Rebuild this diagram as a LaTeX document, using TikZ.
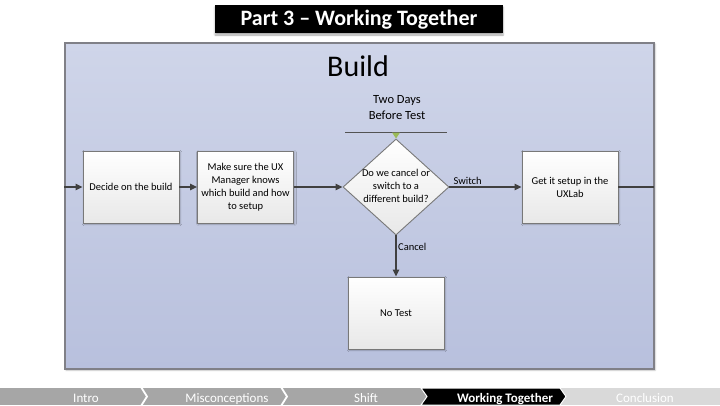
\documentclass[tikz,border=0pt]{standalone}
\usepackage{fontspec}
\setmainfont{Carlito}
\usetikzlibrary{shapes.geometric,arrows.meta,shadows.blur}
\definecolor{paneltop}{RGB}{207,213,233}
\definecolor{panelbot}{RGB}{184,192,221}
\definecolor{panelborder}{RGB}{128,128,135}
\definecolor{linec}{RGB}{64,64,64}
\definecolor{boxborder}{RGB}{120,120,120}
\definecolor{navgray}{RGB}{166,166,166}
\definecolor{navlight}{RGB}{217,217,217}
\definecolor{trigreen}{RGB}{155,187,89}
\tikzset{
  stepbox/.style={draw=boxborder, line width=0.9pt, top color=white, bottom color=black!9,
    minimum width=96pt, minimum height=72pt, inner sep=2pt, align=center,
    font=\fontsize{10.5}{13}\selectfont, blur shadow={shadow xshift=1pt, shadow yshift=-1pt, shadow blur steps=4, shadow opacity=25}},
  decision/.style={draw=boxborder, line width=0.9pt, shape=diamond, top color=white, bottom color=black!9,
    minimum width=106pt, minimum height=96pt, inner sep=0pt},
  flow/.style={draw=linec, line width=1.3pt, -{Triangle[length=7pt,width=6.5pt]}},
  plain/.style={draw=linec, line width=1.3pt},
  lbl/.style={font=\fontsize{10.5}{12}\selectfont, inner sep=1.5pt},
  navtxt/.style={font=\fontsize{13}{13}\selectfont, text=white, anchor=base},
}
\begin{document}
\begin{tikzpicture}[x=1pt,y=-1pt]
\useasboundingbox (0,0) rectangle (720,405);
% title
\node[fill=black, minimum width=288pt, minimum height=28pt, inner sep=0pt,
  blur shadow={shadow xshift=0pt, shadow yshift=-2pt, shadow blur steps=5, shadow opacity=35}]
  (title) at (359,19) {};
\node[text=white, font=\bfseries\fontsize{22}{22}\selectfont] (titletxt) at (359,19.5) {Part 3 – Working Together};
% panel
\node[draw=panelborder, line width=1.3pt, top color=paneltop, bottom color=panelbot,
  minimum width=589pt, minimum height=326pt, inner sep=0pt,
  blur shadow={shadow xshift=1pt, shadow yshift=-1pt, shadow blur steps=4, shadow opacity=25}]
  (panel) at (359.5,206) {};
\node[font=\fontsize{30}{30}\selectfont] (build) at (358,66) {Build};
\node[font=\fontsize{12.5}{16}\selectfont, align=center] (twodays) at (397,108) {Two Days\\Before Test};
\coordinate (tl) at (345,132);
\coordinate (tr) at (447,132);
\draw[draw=linec!90, line width=1pt] (tl) -- (tr);
% nodes
\node[stepbox] (b1) at (131,187) {Decide on the build};
\node[stepbox] (b2) at (245.5,187) {Make sure the UX\\Manager knows\\which build and how\\to setup};
\node[decision] (d) at (396,187) {};
\node[align=center, font=\fontsize{10.5}{13}\selectfont] (dtxt) at (396,186) {Do we cancel or\\switch to a\\different build?};
\node[stepbox] (b3) at (570,187) {Get it setup in the\\UXLab};
\node[stepbox] (nt) at (396,313) {No Test};
\fill[trigreen] (392,132.5) -- (400,132.5) -- (396,138.5) -- cycle;
% connectors
\coordinate (in) at (64,187);
\coordinate (out) at (654,187);
\draw[flow] (in) -- (b1.west);
\draw[flow] (b1.east) -- (b2.west);
\draw[flow] (b2.east) -- (d.west);
\draw[flow] (d.east) -- node[pos=0, anchor=south west, lbl, xshift=2pt] (sw) {Switch} (b3.west);
\draw[plain] (b3.east) -- (out);
\draw[flow] (d.south) -- node[pos=0.27, anchor=west, lbl] (cn) {Cancel} (nt.north);
% nav bar
\fill[navgray] (0,388) rectangle (430,405);
\fill[navlight] (555,388) rectangle (720,405);
\draw[white, line width=1.8pt] (141,387) -- (147,396.5) -- (141,406);
\draw[white, line width=1.8pt] (281,387) -- (287,396.5) -- (281,406);
\fill[black, draw=white, line width=1pt] (421,388) -- (560,388) -- (566,396.5) -- (560,405) -- (421,405) -- (427,396.5) -- cycle;
\node[navtxt] (n1) at (86,402) {Intro};
\node[navtxt] (n2) at (227,402) {Misconceptions};
\node[navtxt] (n3) at (366,402) {Shift};
\node[navtxt, font=\bfseries\fontsize{13}{13}\selectfont] (n4) at (505,402) {Working Together};
\node[navtxt] (n5) at (645,402) {Conclusion};
\end{tikzpicture}
\end{document}
